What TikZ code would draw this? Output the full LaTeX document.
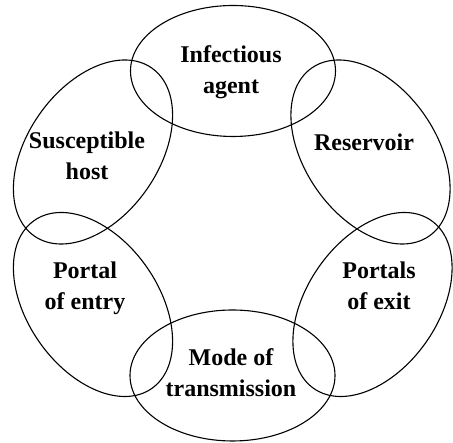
\documentclass[tikz,border=0pt]{standalone}
\usepackage{fontspec}
\setmainfont{Liberation Serif}
\usetikzlibrary{shapes.geometric}
\begin{document}
\begin{tikzpicture}[x=1pt,y=1pt,
  ring/.style={draw=black, line width=1.1pt, ellipse, inner sep=0pt,
    minimum width=205pt, minimum height=131pt},
  lbl/.style={align=center, inner sep=0pt,
    font=\fontsize{24}{31}\selectfont\bfseries}]
\useasboundingbox (0,0) rectangle (453,443);
\node[ring] (agent) at (233,372) {};
\node[ring] (mode) at (232.5,67.5) {};
\node[ring, rotate=-55] (res) at (370.5,291) {};
\node[ring, rotate=55] (host) at (93,291) {};
\node[ring, rotate=-55] (entry) at (93,138.5) {};
\node[ring, rotate=55] (exit) at (372.5,138.5) {};
\node[lbl] (tagent) at (231,371) {Infectious\\agent};
\node[lbl] (thost) at (87,287) {Susceptible\\host};
\node[lbl] (tres) at (364,301) {Reservoir};
\node[lbl] (tentry) at (85,155) {Portal\\of entry};
\node[lbl] (texit) at (379,157) {Portals\\of exit};
\node[lbl] (tmode) at (231,70) {Mode of\\transmission};
\end{tikzpicture}
\end{document}
